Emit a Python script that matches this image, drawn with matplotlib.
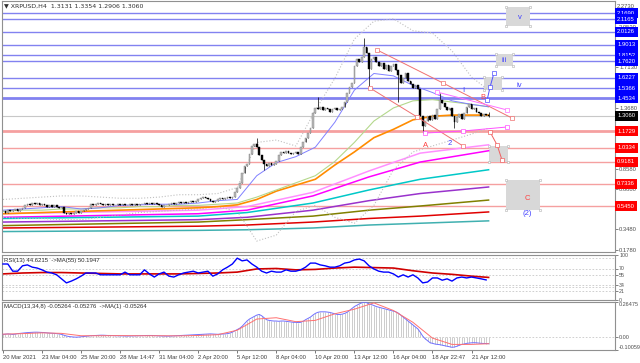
import numpy as np
import matplotlib.pyplot as plt
from matplotlib.transforms import blended_transform_factory

plt.rcParams['font.family'] = ['Liberation Sans', 'DejaVu Sans']

# ---------------- data ----------------
first_open = 0.50
closes = [
    # 0-11
    0.50, 0.49, 0.51, 0.50, 0.51, 0.52, 0.50, 0.52, 0.53, 0.55, 0.56, 0.55,
    # 12-24
    0.57, 0.56, 0.57, 0.55, 0.56, 0.55, 0.54, 0.55, 0.54, 0.55, 0.54, 0.53, 0.54,
    # 25-35
    0.49, 0.48, 0.49, 0.48, 0.49, 0.50, 0.49, 0.50, 0.51, 0.52, 0.53,
    # 36-56
    0.56, 0.55, 0.56, 0.57, 0.56, 0.55, 0.56, 0.55, 0.56, 0.55,
    0.55, 0.56, 0.55, 0.56, 0.55, 0.55, 0.56, 0.55, 0.56, 0.55, 0.56,
    # 57-67
    0.56, 0.57, 0.56, 0.57, 0.56, 0.57, 0.56, 0.55, 0.54, 0.55, 0.55,
    # 68-80
    0.56, 0.57, 0.56, 0.57, 0.58, 0.57, 0.58, 0.57, 0.58, 0.59, 0.58, 0.59, 0.60,
    # 81-94
    0.61, 0.62, 0.61, 0.60, 0.59, 0.58, 0.59, 0.60, 0.61, 0.60, 0.61, 0.62, 0.61, 0.62,
    # 95-104
    0.66, 0.70, 0.74, 0.82, 0.88, 0.90, 0.98, 1.05, 1.07, 1.04,
    # 105-121
    0.97, 0.93, 0.90, 0.88, 0.91, 0.89, 0.90, 0.92, 0.97, 1.00,
    0.99, 1.01, 0.99, 0.98, 0.99, 1.00, 0.98,
    # 122-139
    1.04, 1.08, 1.12, 1.16, 1.20, 1.33, 1.37, 1.36, 1.38, 1.35,
    1.37, 1.36, 1.34, 1.36, 1.37, 1.35, 1.36, 1.38,
    # 140-152
    1.42, 1.50, 1.55, 1.58, 1.72, 1.78, 1.76, 1.80, 1.88, 1.83, 1.70, 1.78, 1.80,
    # 153-172
    1.76, 1.72, 1.75, 1.70, 1.73, 1.68, 1.72, 1.74, 1.69, 1.65,
    1.58, 1.62, 1.66, 1.60, 1.57, 1.54, 1.56, 1.53, 1.30, 1.22,
    # 173-199
    1.26, 1.30, 1.27, 1.31, 1.28, 1.36, 1.44, 1.41, 1.38, 1.35,
    1.37, 1.30, 1.25, 1.29, 1.32, 1.28, 1.33, 1.38, 1.40, 1.36,
    1.37, 1.34, 1.33, 1.30, 1.32, 1.3131, 1.3060,
]
# long wicks: bar -> (high, low)
wick_extremes = {104: (1.12, None), 107: (None, 0.85), 129: (1.46, None),
                 148: (1.96, None), 150: (None, 1.55), 162: (None, 1.42),
                 172: (None, 1.16), 179: (1.50, None), 185: (None, 1.20),
                 199: (1.3354, 1.2906)}

blue_levels = [2.1690, 2.1165, 2.0126, 1.9013, 1.8152, 1.7620, 1.6227, 1.5366, 1.4534]
red_levels = [1.1729, 1.0334, 0.9181, 0.7336, 0.5450]
last_price = 1.3060
# ticks that are not hidden behind the level labels
price_ticks = [2.0530, 1.7130, 1.3680, 0.8580, 0.6880, 0.3480, 0.1780]

# moving averages sampled every 8 bars (last point = bar 199)
ma_bars = [0, 8, 16, 24, 32, 40, 48, 56, 64, 72, 80, 88, 96, 104, 112, 120,
           128, 136, 144, 152, 160, 168, 176, 184, 192, 199]
ma_fast = [0.51, 0.52, 0.53, 0.54, 0.52, 0.53, 0.55, 0.555, 0.56, 0.56, 0.57, 0.59, 0.60,
           0.80, 0.91, 0.96, 1.04, 1.25, 1.52, 1.66, 1.64, 1.56, 1.50, 1.43, 1.40, 1.38]
ma_mid = [0.50, 0.51, 0.51, 0.52, 0.52, 0.53, 0.53, 0.54, 0.54, 0.55, 0.55, 0.56, 0.57,
          0.62, 0.68, 0.74, 0.80, 0.92, 1.08, 1.26, 1.37, 1.43, 1.44, 1.42, 1.40, 1.38]
ma_slow = [0.48, 0.485, 0.49, 0.495, 0.50, 0.505, 0.51, 0.515, 0.52, 0.525, 0.53, 0.54, 0.555,
           0.60, 0.67, 0.72, 0.77, 0.89, 1.00, 1.12, 1.19, 1.27, 1.30, 1.31, 1.31, 1.31]
band_up = [0.60, 0.61, 0.62, 0.63, 0.63, 0.62, 0.61, 0.61, 0.62, 0.64, 0.64, 0.65, 0.70,
           1.08, 1.10, 1.05, 1.35, 1.62, 1.95, 2.10, 2.12, 2.02, 2.00, 1.85, 1.63, 1.52]
band_dn = [0.45, 0.44, 0.44, 0.43, 0.43, 0.45, 0.47, 0.49, 0.50, 0.51, 0.52, 0.54, 0.50,
           0.25, 0.30, 0.50, 0.55, 0.45, 0.40, 0.55, 0.85, 1.00, 1.05, 1.10, 1.15, 1.20]

# long period averages, sampled at a few bars
long_bars = [0, 80, 100, 127, 150, 171, 199]
long_mas = {
    '#ff90ff': [0.48, 0.51, 0.54, 0.66, 0.84, 0.99, 1.06],
    '#ff00ff': [0.45, 0.48, 0.51, 0.63, 0.79, 0.915, 1.01],
    '#00c8c8': [0.44, 0.46, 0.49, 0.57, 0.68, 0.77, 0.85],
    '#9932cc': [0.41, 0.43, 0.45, 0.51, 0.59, 0.65, 0.705],
    '#808000': [0.38, 0.41, 0.43, 0.46, 0.51, 0.545, 0.595],
    '#e00000': [0.36, 0.375, 0.385, 0.41, 0.44, 0.46, 0.495],
    '#40b0b0': [0.33, 0.34, 0.345, 0.36, 0.385, 0.40, 0.42],
}

# wave / trend line drawings (bar, price)
red_upper = [(153.3, 1.858), (180.3, 1.580), (208.6, 1.285)]
red_lower = [(150.4, 1.538), (169.7, 1.294), (188.5, 1.050)]
pink_upper = [(177.9, 1.504), (206.6, 1.353)]
pink_lower = [(173.0, 1.159), (188.5, 1.176), (206.6, 1.210)]
blue_path = [(198.4, 1.437), (199.6, 1.546), (201.2, 1.664)]
red_path = [(199.6, 1.168), (202.5, 1.058), (204.5, 0.932)]
boxes = [(206.1, 216.0, 2.060, 2.219), (202.0, 209.0, 1.723, 1.824),
         (197.1, 204.5, 1.521, 1.630), (199.2, 207.0, 0.915, 1.050),
         (206.1, 220.1, 0.511, 0.764)]
wave_labels = [('v', 212.0, 2.127, '#4040ff'), ('iii', 205.3, 1.773, '#4040ff'),
               ('iv', 211.5, 1.555, '#4040ff'), ('B', 196.7, 1.462, '#ff4040'),
               ('I', 188.5, 1.521, '#4040ff'), ('A', 173.0, 1.058, '#ff4040'),
               ('2', 183.0, 1.075, '#4040ff'), ('C', 214.8, 0.604, '#ff4040'),
               ('(2)', 214.8, 0.486, '#4040ff')]

# RSI(13) every 2 bars, its MA(55) every 8 bars
rsi = [80, 80, 64, 64, 76, 78, 73, 71, 67, 62,
       60, 56, 47, 38, 42, 47, 53, 60, 60, 60,
       56, 56, 56, 56, 56, 62, 56, 56, 56, 67,
       58, 51, 58, 62, 53, 51, 56, 60, 62, 64,
       60, 62, 64, 53, 58, 67, 73, 80, 93, 87,
       89, 80, 73, 64, 60, 64, 62, 62, 67, 64,
       64, 67, 73, 82, 82, 78, 76, 73, 73, 76,
       82, 84, 89, 91, 87, 76, 69, 64, 62, 62,
       58, 51, 56, 51, 56, 49, 38, 40, 49, 49,
       44, 47, 42, 49, 51, 49, 51, 49, 47, 44.6]
rsi_ma = [58, 60, 61, 61, 60, 59, 58, 58, 58, 58, 59, 60, 62,
          69, 70, 67, 68, 71, 73, 72, 71, 65, 60, 57, 53, 50.19]
rsi_levels = [93, 70, 55, 34, 29, 20]
rsi_ticks = [100, 70, 55, 34, 21, 0]

# MACD main (every bar) and signal (every 8 bars)
macd = [
    0.018, 0.02, 0.022, 0.02, 0.018, 0.02, 0.024, 0.026, 0.028, 0.03, 0.032, 0.033,
    0.034, 0.035, 0.035, 0.034, 0.033, 0.032, 0.03, 0.028, 0.027, 0.026, 0.024, 0.022,
    0.018, 0.012, 0.006, 0.002, 0.0, -0.002, -0.003, -0.002, 0.0, 0.002, 0.004, 0.006,
    0.008, 0.009, 0.01, 0.011, 0.012, 0.012, 0.011, 0.01, 0.01, 0.009, 0.008, 0.008,
    0.007, 0.007, 0.006, 0.006, 0.006, 0.007, 0.007, 0.008, 0.008, 0.009, 0.009, 0.01,
    0.01, 0.01, 0.009, 0.008, 0.007, 0.006, 0.006, 0.005, 0.005, 0.006, 0.007, 0.008,
    0.009, 0.01, 0.011, 0.012, 0.013, 0.014, 0.015, 0.016, 0.017, 0.018, 0.019, 0.02,
    0.021, 0.022, 0.021, 0.02, 0.019, 0.02, 0.021, 0.022, 0.024,
    0.028, 0.035, 0.045, 0.055, 0.065, 0.08, 0.1, 0.12, 0.135, 0.145, 0.155, 0.165,
    0.17, 0.16, 0.145, 0.13,
    0.125, 0.122, 0.12, 0.12, 0.118, 0.12, 0.12, 0.118, 0.115, 0.113, 0.11, 0.11,
    0.108, 0.11, 0.118, 0.13, 0.14,
    0.15, 0.165, 0.178, 0.186, 0.19, 0.19, 0.19, 0.188, 0.185, 0.18, 0.175, 0.17,
    0.17, 0.172, 0.178, 0.186, 0.2, 0.215, 0.23, 0.24, 0.25, 0.258,
    0.265, 0.26, 0.25, 0.245, 0.238, 0.23, 0.225, 0.22, 0.215, 0.21, 0.205, 0.2,
    0.195, 0.19, 0.18, 0.165, 0.15, 0.135, 0.12, 0.105, 0.09, 0.075, 0.06, 0.035, 0.005,
    -0.015, -0.03, -0.045, -0.05, -0.055, -0.058, -0.06, -0.064, -0.068, -0.072,
    -0.076, -0.08, -0.078, -0.072, -0.065, -0.058, -0.055, -0.05, -0.048, -0.046,
    -0.045, -0.046, -0.048, -0.05, -0.051, -0.052, -0.05264,
]
macd_signal = [0.02, 0.024, 0.03, 0.026, 0.008, 0.008, 0.009, 0.008, 0.008, 0.007, 0.01,
               0.016, 0.05, 0.135, 0.145, 0.115, 0.125, 0.175, 0.21, 0.258, 0.2, 0.11,
               -0.01, -0.058, -0.058, -0.05276]
macd_lim = (-0.10059, 0.26475)

time_labels = ['20 Mar 2021', '23 Mar 04:00', '25 Mar 20:00', '28 Mar 14:47',
               '31 Mar 04:00', '2 Apr 20:00', '5 Apr 12:00', '8 Apr 04:00',
               '10 Apr 20:00', '13 Apr 12:00', '16 Apr 04:00', '18 Apr 22:47',
               '21 Apr 12:00']

# ---------------- figure ----------------
W, H = 640, 363
fig = plt.figure(figsize=(W / 100, H / 100), dpi=100)


def panel(top, bottom):
    a = fig.add_axes([2 / W, 1 - bottom / H, 613 / W, (bottom - top) / H])
    a.set_xlim(-0.4, 250.8)
    for s in a.spines.values():
        s.set_color('#909090')
        s.set_linewidth(0.8)
    a.tick_params(axis='y', left=False, right=True, labelleft=False, labelright=True,
                  length=2, width=0.5, pad=1, labelsize=4.2, colors='#505050')
    a.tick_params(axis='x', bottom=False, labelbottom=False)
    return a


ax = panel(1, 252)
ax_rsi = panel(255, 300)
ax_macd = panel(302, 350)

# ---- main price panel ----
ax.set_ylim(0.158, 2.270)
ax.set_yticks(price_ticks)
ax.set_yticklabels([f'{t:.4f}' for t in price_ticks])
trans = blended_transform_factory(ax.transAxes, ax.transData)


def level_label(lvl, fc):
    ax.text(1.0035, lvl, f'{lvl:.4f}', transform=trans, color='white', fontsize=4.2,
            va='center', ha='left', clip_on=False, zorder=6,
            bbox=dict(boxstyle='square,pad=0.42', fc=fc, ec='none'))


for lvl in blue_levels:
    lw = 2.0 if lvl == 1.4534 else 1.0
    ax.axhline(lvl, color='#8282f0', lw=lw, zorder=1)
    level_label(lvl, '#0000ff')
for lvl in red_levels:
    lw = 2.0 if lvl == 1.1729 else 1.0
    ax.axhline(lvl, color='#f5a0a0', lw=lw, zorder=1)
    level_label(lvl, '#ff0000')
ax.axhline(last_price, color='#c8c8c8', lw=0.8, zorder=1)
level_label(last_price, 'black')
fig.text(617 / W, 1 - 7 / H, '2.2730', fontsize=4.2, color='#505050', va='center')

# long averages
for color, vals in long_mas.items():
    ax.plot(long_bars, vals, color=color, lw=1.1, zorder=2)

# bands and averages
ax.plot(ma_bars, band_up, color='#c0c0c0', lw=0.8, ls=':', zorder=2)
ax.plot(ma_bars, band_dn, color='#c0c0c0', lw=0.8, ls=':', zorder=2)
ax.plot(ma_bars, ma_slow, color='#ff8c00', lw=1.2, zorder=2)
ax.plot(ma_bars, ma_mid, color='#b4d88c', lw=0.8, zorder=2)
ax.plot(ma_bars, ma_fast, color='#8080ff', lw=0.7, zorder=2)

# candles
c = np.array(closes)
o = np.r_[first_open, c[:-1]]
idx = np.arange(len(c))
body_lo = np.minimum(o, c)
hi = np.maximum(o, c)
lo = body_lo.copy()
for i, (h, l) in wick_extremes.items():
    if h is not None:
        hi[i] = h
    if l is not None:
        lo[i] = l
bull = c >= o
ax.vlines(idx, lo, hi, color='black', lw=0.5, zorder=3)
body = np.maximum(np.abs(c - o), 0.006)
ax.bar(idx[bull], body[bull], bottom=body_lo[bull],
       width=0.7, color='#b8b8b8', edgecolor='#808080', lw=0.3, zorder=4)
ax.bar(idx[~bull], body[~bull], bottom=body_lo[~bull],
       width=0.7, color='black', edgecolor='black', lw=0.3, zorder=4)

# drawings
for pts, col in [(red_upper, '#f07070'), (red_lower, '#f07070'),
                 (pink_upper, '#ff70ff'), (pink_lower, '#ff50ff'),
                 (blue_path, '#5050ff'), (red_path, '#f06060')]:
    xs, ys = zip(*pts)
    ax.plot(xs, ys, color=col, lw=0.7, zorder=5)
    ax.plot(xs, ys, ls='none', marker='s', ms=2.2, mfc='white', mec=col, mew=0.5, zorder=5)
for x0, x1, p0, p1 in boxes:
    ax.fill_between([x0, x1], p0, p1, color='#d8d8d8', lw=0, zorder=1.5)
    ax.plot([x0, x1, x0, x1], [p0, p0, p1, p1], ls='none', marker='s', ms=1.6,
            mfc='white', mec='#b0b0b0', mew=0.4, zorder=1.6)
for txt, bx, py, col in wave_labels:
    ax.text(bx, py, txt, color=col, fontsize=5.5, ha='center', va='center', zorder=6)

fig.text(4 / W, 1 - 6 / H, '\u25bc XRPUSD,H4  1.3131 1.3354 1.2906 1.3060',
         fontsize=4.5, color='#303030', va='center',
         family=['DejaVu Sans'])

# ---- RSI panel ----
ax_rsi.set_ylim(0, 100)
ax_rsi.set_yticks(rsi_ticks)
ax_rsi.set_yticklabels([str(t) for t in rsi_ticks])
ax_rsi.tick_params(axis='y', labelsize=3.8)
for lvl in rsi_levels:
    ax_rsi.axhline(lvl, color='#c8c8c8', lw=0.6, ls=(0, (2, 2)))
ax_rsi.plot(np.arange(0, 200, 2), rsi, color='#0000ff', lw=1.0, zorder=3)
ax_rsi.plot(ma_bars, rsi_ma, color='#d00000', lw=1.2, zorder=2)
ax_rsi.text(0.003, 0.93, 'RSI(13) 44.6215  ->MA(55) 50.1947', transform=ax_rsi.transAxes,
            fontsize=4.3, color='#303030', va='top')

# ---- MACD panel ----
ax_macd.set_ylim(*macd_lim)
ax_macd.set_yticks([macd_lim[1], 0.0, macd_lim[0]])
ax_macd.set_yticklabels(['0.26475', '0.00', '-0.10059'])
ax_macd.tick_params(axis='y', labelsize=4.0, pad=0.5)
labs = ax_macd.get_yticklabels()
labs[0].set_va('top')
labs[2].set_va('bottom')
ax_macd.axhline(0, color='#c8c8c8', lw=0.6, ls=(0, (2, 2)))
ax_macd.vlines(np.arange(len(macd)), 0, macd, color='#c4c4c4', lw=0.6, zorder=2)
ax_macd.plot(np.arange(len(macd)), macd, color='#7070ff', lw=0.7, zorder=3)
ax_macd.plot(ma_bars, macd_signal, color='#ff7070', lw=0.7, zorder=3)
ax_macd.text(0.003, 0.95, 'MACD(13,34,8) -0.05264 -0.05276  ->MA(1) -0.05264',
             transform=ax_macd.transAxes, fontsize=4.3, color='#303030', va='top')

ax_macd.set_xticks(np.arange(0, 16 * len(time_labels), 16))
ax_macd.set_xticklabels(time_labels, ha='left')
ax_macd.tick_params(axis='x', bottom=True, labelbottom=True, length=2, width=0.5,
                    pad=1.5, labelsize=4.2, colors='#404040')

fig.savefig('out.png', dpi=100)
